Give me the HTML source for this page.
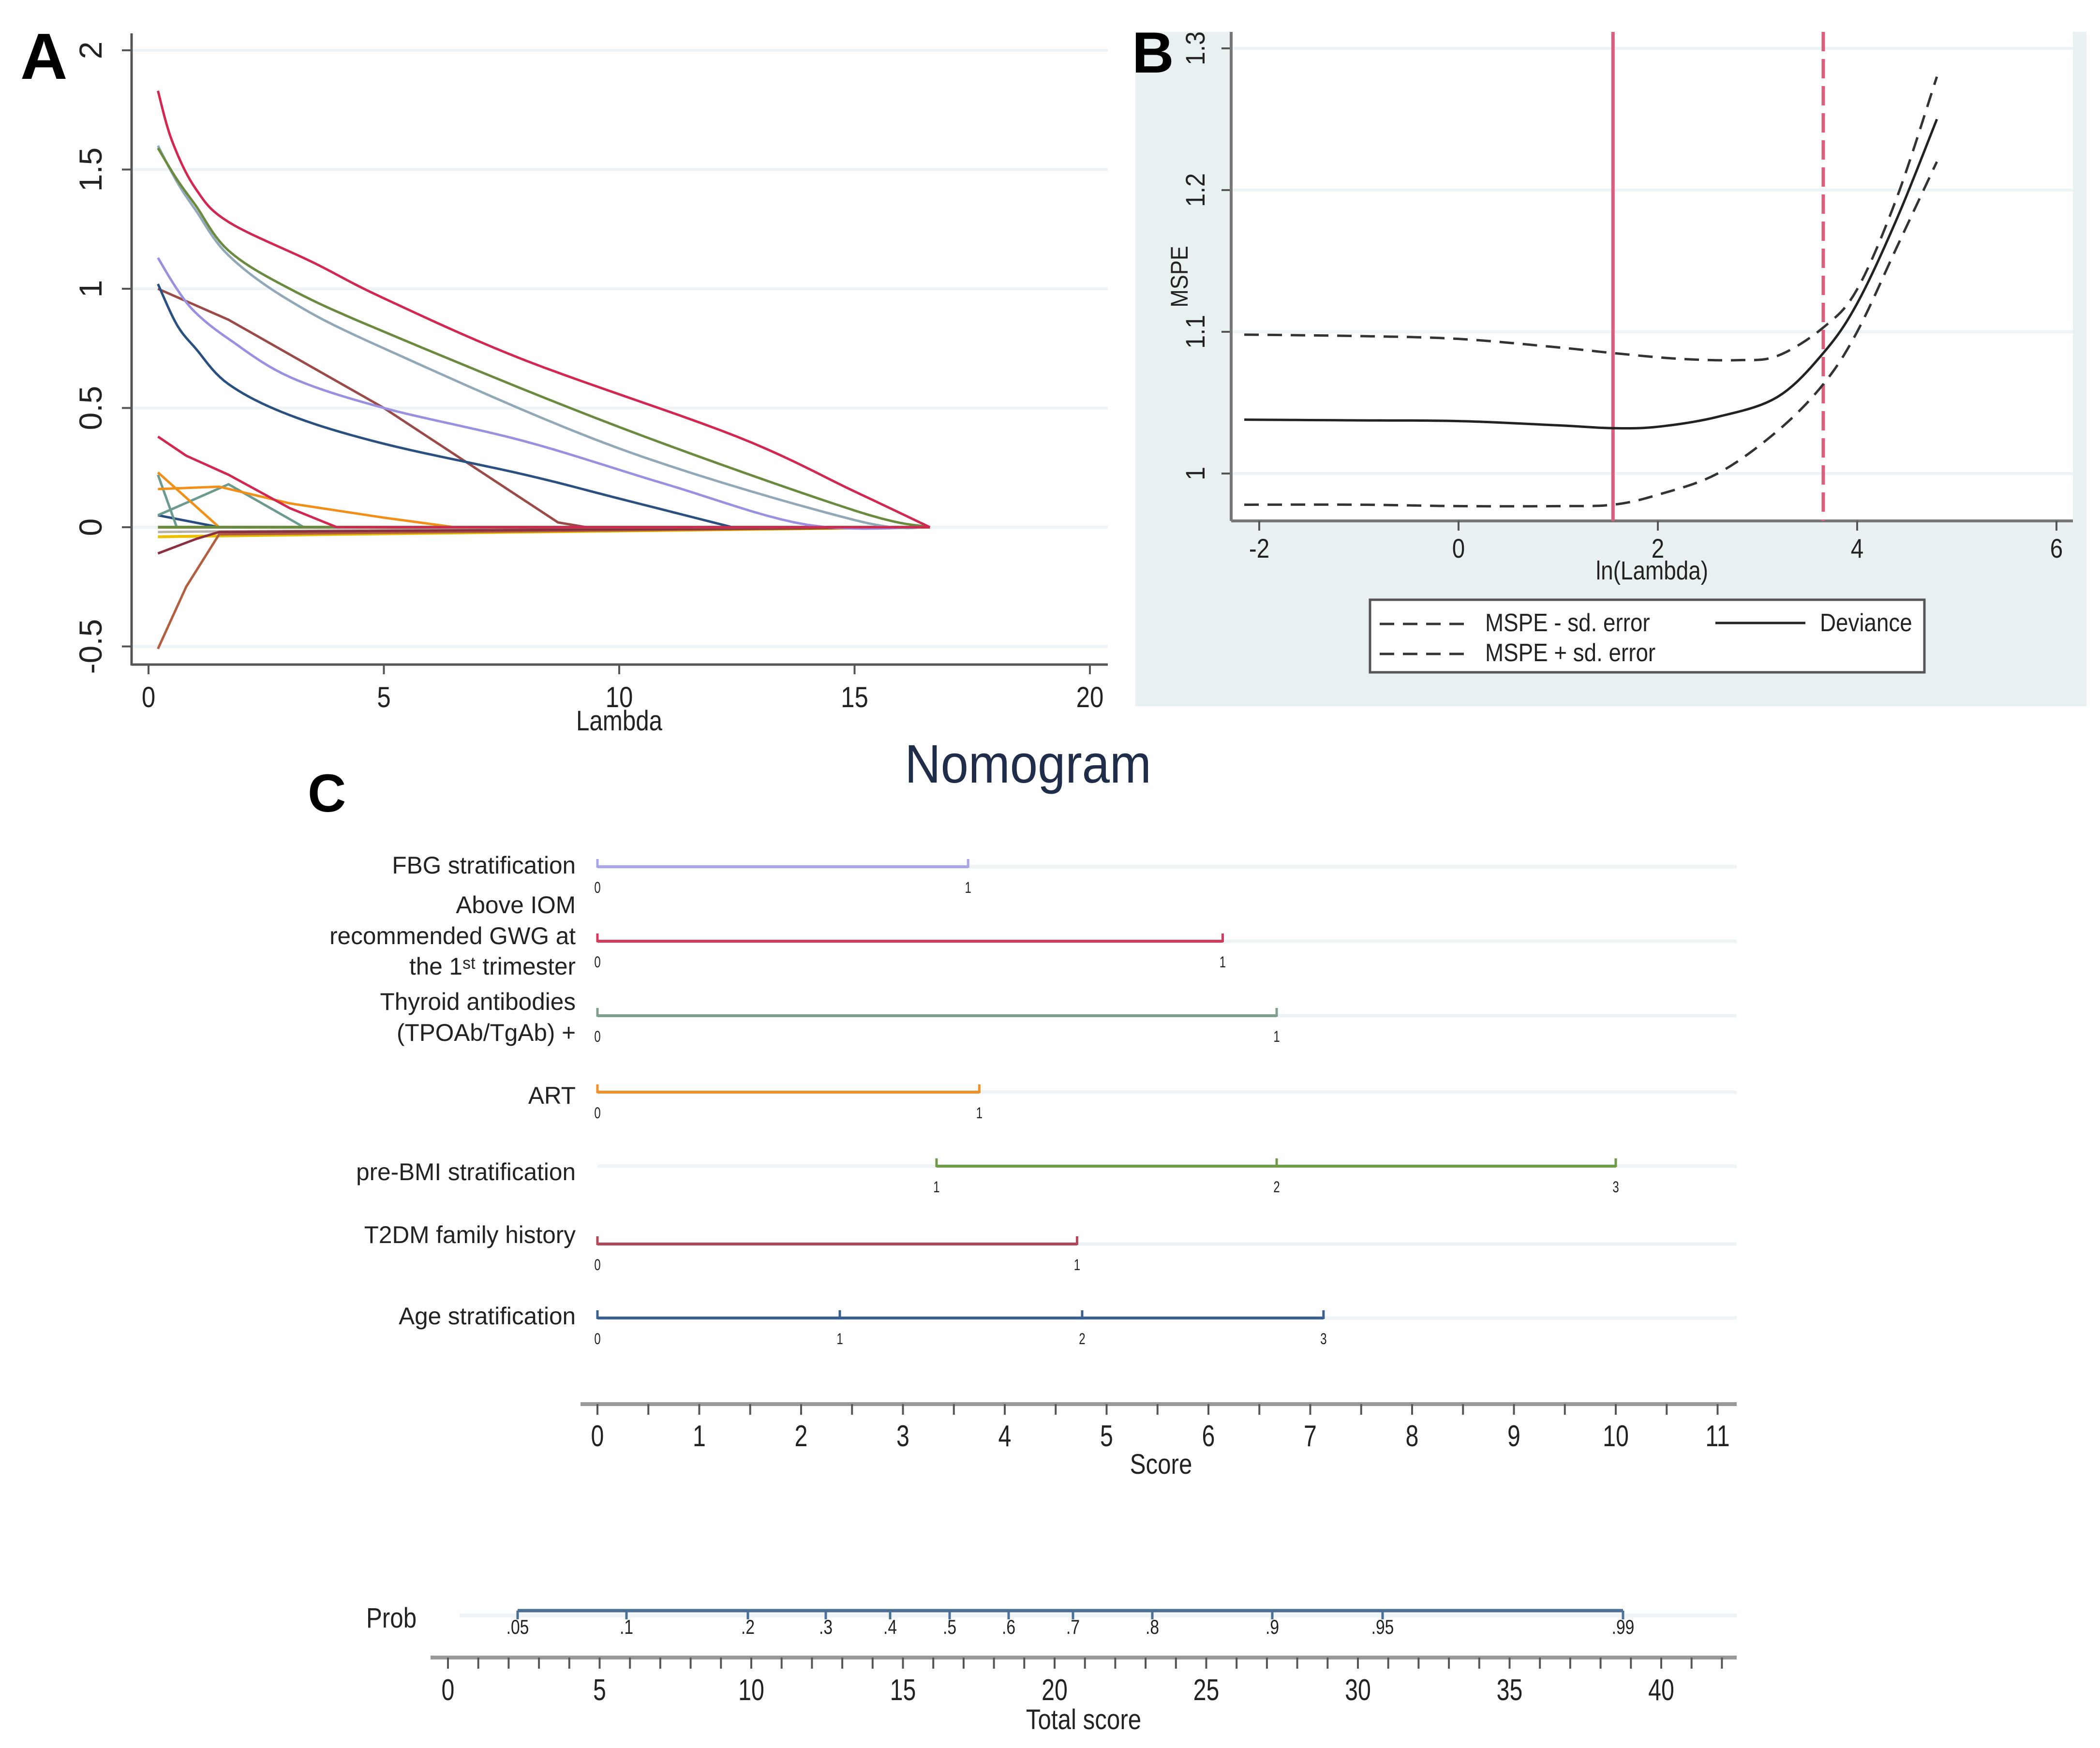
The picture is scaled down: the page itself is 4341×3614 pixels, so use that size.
<!DOCTYPE html>
<html><head><meta charset="utf-8"><style>
html,body{margin:0;padding:0;background:#fff;}
svg{display:block;}
text{font-family:"Liberation Sans",sans-serif;}
</style></head><body>
<svg id="s" width="4341" height="3614" viewBox="0 0 4341 3614" xmlns="http://www.w3.org/2000/svg">
<rect width="4341" height="3614" fill="#fff"/>
<rect x="2347" y="66" width="1966" height="1394" fill="#e8f0f2"/>
<rect x="2543" y="66" width="1742" height="1011" fill="#fff"/>
<g id="g"></g>
<text x="42" y="163" font-size="135" font-weight="bold" fill="#000">A</text>
<text x="2340" y="150" font-size="120" font-weight="bold" fill="#000">B</text>
<text x="636" y="1678" font-size="110" font-weight="bold" fill="#000">C</text>
</svg>
<script>
var g=document.getElementById('g'),NS='http://www.w3.org/2000/svg';
function el(n,a,txt){var e=document.createElementNS(NS,n);for(var k in a)e.setAttribute(k,a[k]);if(txt!==undefined)e.textContent=txt;g.appendChild(e);return e;}
function ln(x1,y1,x2,y2,c,w,d){var a={x1:x1,y1:y1,x2:x2,y2:y2,stroke:c,'stroke-width':w};if(d)a['stroke-dasharray']=d;return el('line',a);}
function tx(x,y,s,size,anchor,sx,fill,rot){
  sx=sx||1;var a={'font-size':size,'text-anchor':anchor||'middle',fill:fill||'#222'};
  if(rot){a.transform='translate('+x+','+y+') rotate(-90) scale('+sx+',1)';}
  else{a.transform='translate('+x+','+y+') scale('+sx+',1)';}
  a.x=0;a.y=0;
  return el('text',a,s);}
function pl(pts,c,w,d){return el('polyline',{points:pts.map(p=>p.join(',')).join(' '),fill:'none',stroke:c,'stroke-width':w,'stroke-linejoin':'round','stroke-dasharray':d||''});}
function sm(pts){var out=[];for(var i=0;i<pts.length-1;i++){var p0=pts[Math.max(0,i-1)],p1=pts[i],p2=pts[i+1],p3=pts[Math.min(pts.length-1,i+2)];
 for(var t=0;t<1;t+=0.1){var t2=t*t,t3=t2*t;var f=(a,b,c,d)=>0.5*((2*b)+(-a+c)*t+(2*a-5*b+4*c-d)*t2+(-a+3*b-3*c+d)*t3);out.push([f(p0[0],p1[0],p2[0],p3[0]),f(p0[1],p1[1],p2[1],p3[1])]);}}
 out.push(pts[pts.length-1]);return out;}

/* ---------- Panel A ---------- */
var AX=l=>307+97.3*l, AY=v=>1090-493*v;
[2,1.5,1,0.5,0,-0.5].forEach(v=>{ln(272,AY(v),2290,AY(v),'#eef3f5',6);ln(252,AY(v),272,AY(v),'#555',4);
  tx(210,AY(v),String(v),66,'middle',1,'#222',true);});
ln(272,69,272,1376,'#555',5);ln(272,1374,2290,1374,'#555',5);
[0,5,10,15,20].forEach(l=>{ln(AX(l),1374,AX(l),1394,'#555',4);tx(AX(l),1462,String(l),60,'middle',0.85);});
tx(1280,1510,'Lambda',58,'middle',0.85);
function A(pts,c,w,s){var p=s?sm(pts):pts;pl(p.map(p=>[AX(p[0]),AY(p[1])]),c,w||5);}
A([[0.2,-0.04],[4,-0.03],[16.6,0]],'#e8c000',6);
A([[0.2,-0.02],[6,-0.01],[16.6,0]],'#b8b0a8',5);
A([[0.2,-0.51],[0.8,-0.25],[1.5,-0.03],[16.6,0]],'#b06040');
A([[0.2,-0.11],[1,-0.05],[1.5,-0.02],[16.6,0]],'#8b3040');
A([[0.2,0.05],[1.5,0],[16.6,0]],'#2a4d80');
A([[0.2,0.22],[0.6,0.0],[16.6,0]],'#6a9a90');
A([[0.2,0.05],[1.7,0.18],[3.3,0],[16.6,0]],'#6a9a90');
A([[0.2,0.23],[1.5,0.0]],'#f0901a');
A([[0.2,0.16],[1.5,0.17],[3,0.1],[5,0.04],[6.5,0],[16.6,0]],'#f0901a');
A([[0.2,0],[16.6,0]],'#6a8a40',6);
A([[0.2,1.0],[1.7,0.87],[5,0.5],[8.7,0.02],[9.3,0],[16.6,0]],'#9a4a48');
A([[0.2,1.02],[0.6,0.85],[1,0.75],[1.7,0.6],[3,0.47],[5,0.35],[8,0.22],[10,0.12],[12.4,0]],'#2a5080',5,true);
A([[12.4,0],[16.6,0]],'#2a5080');
A([[0.2,1.13],[0.6,1.0],[1,0.9],[1.7,0.79],[3,0.63],[5,0.5],[8,0.36],[11,0.18],[14,0.01],[16.6,0]],'#9a90e0',5,true);
A([[0.2,1.6],[0.6,1.45],[1,1.33],[1.7,1.14],[3,0.95],[5,0.75],[10,0.33],[15,0.03],[16.6,0]],'#90a8b8',5,true);
A([[0.2,1.59],[0.6,1.46],[1,1.35],[1.7,1.16],[3,1.0],[5,0.82],[10,0.42],[15,0.07],[16.6,0]],'#6a8a40',5,true);
A([[0.2,0.38],[0.8,0.3],[1.7,0.22],[3,0.08],[4,0],[16.6,0]],'#d02850');
A([[0.2,1.83],[0.5,1.62],[1,1.42],[1.7,1.28],[3.5,1.11],[5,0.96],[8,0.7],[12.5,0.38],[15,0.15],[16.6,0]],'#d02850',5,true);

/* ---------- Panel B ---------- */
var BX=l=>3015+206*l, BY=v=>979-2930*(v-1);
[1.3,1.2,1.1,1.0].forEach(v=>{ln(2545,BY(v),4285,BY(v),'#eef3f5',6);ln(2525,BY(v),2545,BY(v),'#555',4);
  tx(2490,BY(v),String(v),56,'middle',0.9,'#222',true);});
ln(2545,66,2545,1077,'#777',6);ln(2545,1077,4285,1077,'#777',6);
[-2,0,2,4,6].forEach(l=>{ln(BX(l),1077,BX(l),1097,'#555',4);tx(BX(l),1153,String(l),56,'middle',0.85);});
tx(3415,1198,'ln(Lambda)',54,'middle',0.85);
tx(2455,572,'MSPE',50,'middle',0.9,'#222',true);
function B(pts,c,w,d){pl(sm(pts).map(p=>[BX(p[0]),BY(p[1])]),c,w,d);}
ln(BX(1.55),66,BX(1.55),1077,'#d8607e',7);
ln(BX(3.66),66,BX(3.66),1077,'#d8607e',7,'40,16');
B([[-2.15,1.098],[-1,1.097],[0,1.095],[1,1.089],[1.55,1.085],[2.2,1.081],[2.8,1.08],[3.2,1.083],[3.66,1.103],[4,1.13],[4.4,1.195],[4.8,1.28]],'#333',5,'30,18');
B([[-2.15,1.038],[-1,1.0375],[0,1.037],[1,1.034],[1.55,1.032],[2,1.033],[2.6,1.04],[3.2,1.054],[3.66,1.085],[4,1.12],[4.4,1.18],[4.8,1.25]],'#222',5);
B([[-2.15,0.978],[-1,0.978],[0,0.977],[1,0.977],[1.55,0.978],[2,0.985],[2.6,1.0],[3.2,1.03],[3.66,1.063],[4,1.1],[4.4,1.16],[4.8,1.22]],'#333',5,'30,18');
el('rect',{x:2832,y:1240,width:1146,height:150,fill:'#fff',stroke:'#555','stroke-width':5});
ln(2852,1290,3044,1290,'#333',5,'30,18');tx(3070,1305,'MSPE - sd. error',52,'start',0.88);
ln(2852,1352,3044,1352,'#333',5,'30,18');tx(3070,1367,'MSPE + sd. error',52,'start',0.88);
ln(3546,1288,3732,1288,'#222',5);tx(3762,1305,'Deviance',52,'start',0.88);

/* ---------- Panel C ---------- */
tx(2125,1618,'Nomogram',112,'middle',0.92,'#1f2d4a');
var CX=p=>1235+210.5*p;
function row(y,color,pts,labs,tlabels){
  ln(1235,y,3590,y,'#eef3f5',7);
  ln(CX(pts[0]),y,CX(pts[pts.length-1]),y,color,6);
  pts.forEach((p,i)=>{ln(CX(p),y-16,CX(p),y+2,color,5);tx(CX(p),y+54,tlabels[i],32,'middle',0.75);});
  labs.forEach(l=>tx(1190,l[1],l[0],50,'end',0.99));
}
row(1792,'#a9a4e6',[0,3.64],[['FBG stratification',1806]],['0','1']);
row(1946,'#d23a5e',[0,6.14],[['Above IOM',1888],['recommended GWG at',1952],['the 1ˢᵗ trimester',2015]],['0','1']);
row(2100,'#7f9f8f',[0,6.67],[['Thyroid antibodies',2088],['(TPOAb/TgAb) +',2152]],['0','1']);
row(2258,'#f0902a',[0,3.75],[['ART',2282]],['0','1']);
row(2411,'#6f9a4a',[3.33,6.67,10],[['pre-BMI stratification',2440]],['1','2','3']);
row(2572,'#b04a5a',[0,4.71],[['T2DM family history',2570]],['0','1']);
row(2725,'#3a6090',[0,2.38,4.76,7.13],[['Age stratification',2738]],['0','1','2','3']);
ln(1200,2903,3590,2903,'#999',8);
for(var i=0;i<=22;i++){var x=CX(i/2);ln(x,2903,x,2925,'#555',4);}
for(var i=0;i<=11;i++)tx(CX(i),2990,String(i),62,'middle',0.78);
tx(2400,3047,'Score',58,'middle',0.85);
var PX={'.05':1070,'.1':1295,'.2':1546,'.3':1707,'.4':1840,'.5':1963,'.6':2085,'.7':2218,'.8':2382,'.9':2630,'.95':2858,'.99':3355};
ln(950,3340,3590,3340,'#eef3f5',8);
ln(1070,3330,3355,3330,'#4a7098',7);
for(var k in PX){ln(PX[k],3330,PX[k],3348,'#4a7098',5);tx(PX[k],3378,k,42,'middle',0.8);}
tx(757,3365,'Prob',58,'start',0.85);
ln(890,3427,3590,3427,'#999',8);
var TX=v=>926+62.7*v;
for(var v=0;v<=42;v++){ln(TX(v),3427,TX(v),3450,'#555',4);}
for(var v=0;v<=40;v+=5)tx(TX(v),3515,String(v),62,'middle',0.78);
tx(2240,3575,'Total score',58,'middle',0.85);
</script>
</body></html>
